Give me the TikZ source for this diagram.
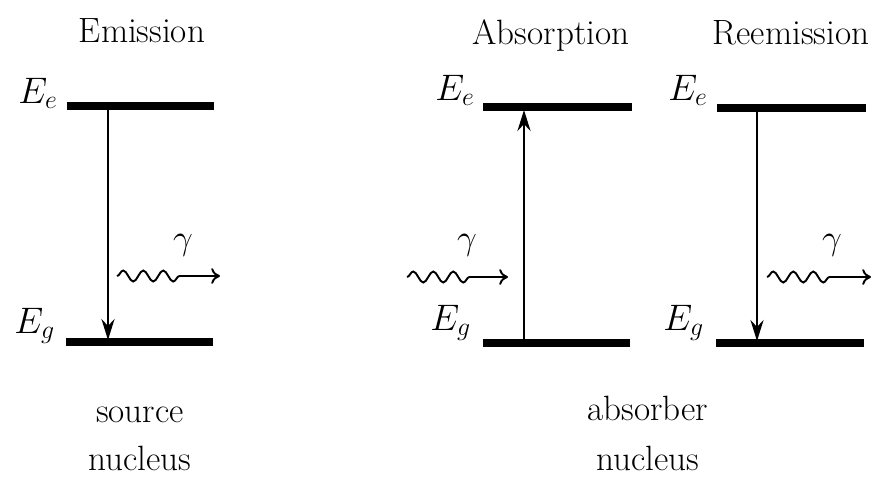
\documentclass[tikz,border=0pt]{standalone}
\usepackage{fix-cm}
\usepackage{amsmath}
\usetikzlibrary{arrows.meta, decorations.pathmorphing, positioning}

\begin{document}
\begin{tikzpicture}[x=0.02cm, y=-0.02cm,
    level/.style={line width=4.2pt},
    trans/.style={line width=1pt, -{Stealth[length=12pt,width=7.5pt,inset=4pt]}},
    photon/.style={line width=1.1pt, -{To[length=5pt,width=9pt]}, decorate,
        decoration={snake, amplitude=0.11cm, segment length=0.4cm, post length=0.75cm}},
    txt/.style={font=\fontsize{20}{24}\selectfont, inner sep=0pt, anchor=base},
    sym/.style={font=\fontsize{21}{25}\selectfont, inner sep=0pt, anchor=base west}]
    \useasboundingbox (0,0) rectangle (884,483);

    % 1. Titles
    \node[txt] (tEm) at (142,43) {Emission};
    \node[txt] (tAb) at (551,45) {Absorption};
    \node[txt] (tRe) at (791,45) {Reemission};

    % 2. Energy levels
    \draw[level] (67,106) -- (214,106);
    \draw[level] (66,342) -- (213,342);
    \draw[level] (483,107) -- (632,107);
    \draw[level] (483,343) -- (630,343);
    \draw[level] (717,108) -- (866,108);
    \draw[level] (716,343) -- (864,343);

    % 3. Level labels
    \node[sym] (eEm) at (18,103) {$E_e$};
    \node[sym] (gEm) at (14,333) {$E_g$};
    \node[sym] (eAb) at (435,100) {$E_e$};
    \node[sym] (gAb) at (430,330) {$E_g$};
    \node[sym] (eRe) at (668,100) {$E_e$};
    \node[sym] (gRe) at (663,330) {$E_g$};

    % 4. Transitions
    \coordinate (topEm) at (108,106);
    \coordinate (botEm) at (108,340);
    \coordinate (botAb) at (524,341);
    \coordinate (topAb) at (524,110);
    \coordinate (topRe) at (757,110);
    \coordinate (botRe) at (757,341);
    \draw[trans] (topEm) -- (botEm);
    \draw[trans] (botAb) -- (topAb);
    \draw[trans] (topRe) -- (botRe);

    % 5. Gamma photons
    \coordinate (inEm) at (117,276);
    \coordinate (outEm) at (220,276);
    \coordinate (inAb) at (407,277);
    \coordinate (outAb) at (508,277);
    \coordinate (inRe) at (767,277);
    \coordinate (outRe) at (871,277);
    \draw[photon] (inEm) -- (outEm);
    \draw[photon] (inAb) -- (outAb);
    \draw[photon] (inRe) -- (outRe);
    \node[txt] (gamEm) at (183,249) {$\gamma$};
    \node[txt] (gamAb) at (467,249) {$\gamma$};
    \node[txt] (gamRe) at (832,249) {$\gamma$};

    % 6. Nucleus captions
    \node[txt] (srcA) at (140,422) {source};
    \node[txt] (srcB) at (140,470) {nucleus};
    \node[txt] (absA) at (648,420) {absorber};
    \node[txt] (absB) at (648,470) {nucleus};
\end{tikzpicture}
\end{document}
